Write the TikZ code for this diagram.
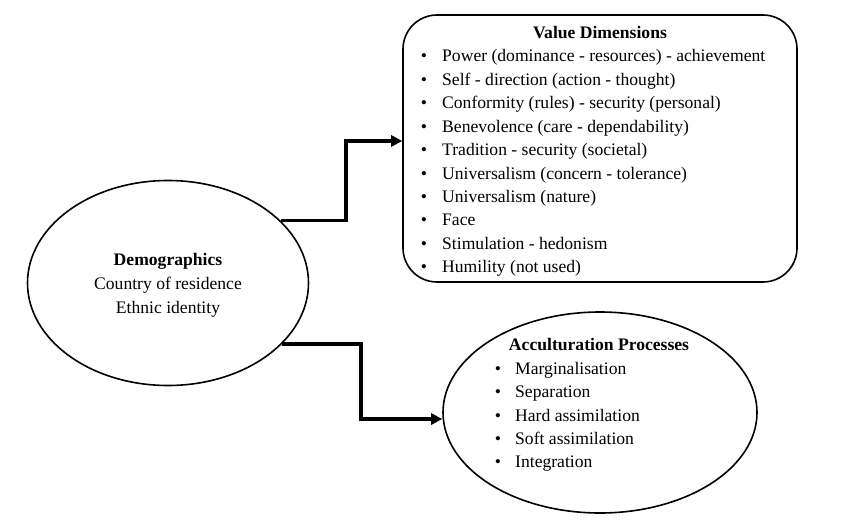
\documentclass[tikz,border=0pt]{standalone}
\usepackage{fontspec}
\setmainfont{Liberation Serif}
\usetikzlibrary{shapes.geometric,arrows.meta}
\begin{document}
\begin{tikzpicture}[x=1pt,y=1pt,
  shapeline/.style={draw=black,line width=1.6pt},
  txt/.style={font=\fontsize{17.6}{24}\selectfont,inner sep=0pt},
  conn/.style={line width=3.6pt,-{Triangle[length=11pt,width=11pt]}},
]
\useasboundingbox (0,0) rectangle (850,-527);
% shapes
\node[shapeline,ellipse,minimum width=281pt,minimum height=205pt,inner sep=0pt] (demo) at (168,-283) {};
\node[shapeline,rectangle,rounded corners=34pt,minimum width=394pt,minimum height=267pt,inner sep=0pt] (vd) at (600,-148.5) {};
\node[shapeline,ellipse,minimum width=314pt,minimum height=201pt,inner sep=0pt] (acc) at (600,-412.5) {};
% demographics text
\node[txt,align=center] (demotxt) at (168,-285.5) {\textbf{Demographics}\\Country of residence\\Ethnic identity};
% value dimensions
\node[txt,anchor=mid] (vdtitle) at (600,-36.5) {\textbf{Value Dimensions}};
\foreach \t [count=\i] in {Power (dominance - resources) - achievement,
  Self - direction (action - thought),
  Conformity (rules) - security (personal),
  Benevolence (care - dependability),
  Tradition - security (societal),
  Universalism (concern - tolerance),
  Universalism (nature),
  Face,
  Stimulation - hedonism,
  Humility (not used)}{
  \node[txt,anchor=mid] (vdb\i) at (424,{-59.5-23.45*(\i-1)}) {•};
  \node[txt,anchor=mid west] (vdi\i) at (442,{-59.5-23.45*(\i-1)}) {\t};
}
% acculturation
\node[txt,anchor=mid] (acctitle) at (599,-348.5) {\textbf{Acculturation Processes}};
\foreach \t [count=\i] in {Marginalisation,Separation,Hard assimilation,Soft assimilation,Integration}{
  \node[txt,anchor=mid] (accb\i) at (498,{-372.5-23.1*(\i-1)}) {•};
  \node[txt,anchor=mid west] (acci\i) at (515,{-372.5-23.1*(\i-1)}) {\t};
}
% connectors
\coordinate (j1) at (346,-141);
\coordinate (j2) at (361,-419);
\draw[conn] (demo.29) -| (j1) -- (j1 -| vd.west);
\draw[conn] (demo.-28) -| (j2) -- (j2 -| acc.west);
\end{tikzpicture}
\end{document}
